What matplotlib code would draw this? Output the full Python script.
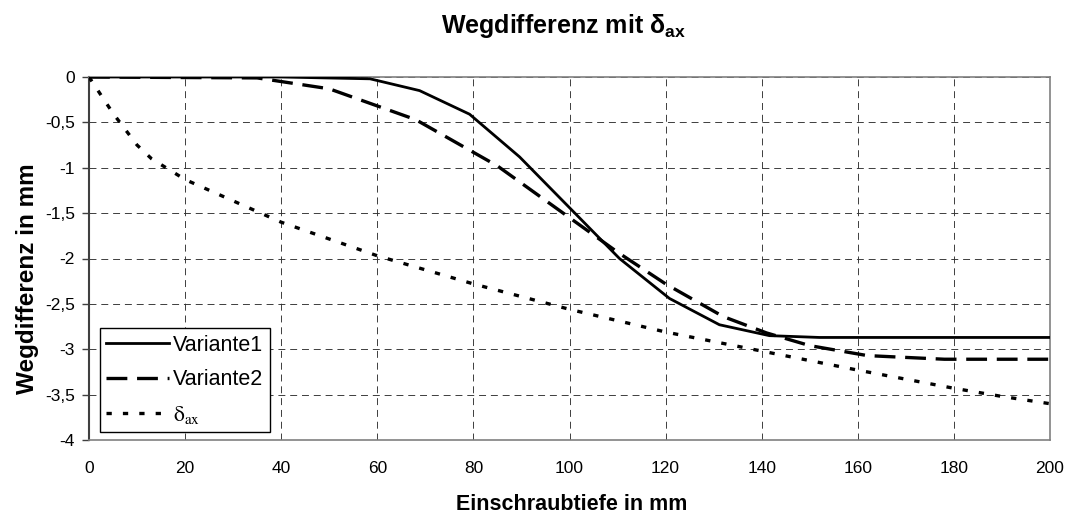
import numpy as np
import matplotlib
matplotlib.use("Agg")
import matplotlib.pyplot as plt

plt.rcParams['font.family'] = ['Liberation Sans', 'DejaVu Sans']
plt.rcParams['lines.scale_dashes'] = False

# Variante1 (durchgezogen)
x_v1 = [0, 20, 40, 58.5, 68.8, 79.2, 89.6, 100, 110.4, 120.8, 131.2, 141.6, 152, 200]
y_v1 = [0, 0, 0, -0.02, -0.15, -0.41, -0.88, -1.44, -2.0, -2.44, -2.73, -2.85, -2.87, -2.87]

# Variante2 (gestrichelt)
x_v2 = [0, 35, 50, 68, 85, 100, 110, 120, 132, 141, 150, 162, 178, 200]
y_v2 = [0, -0.01, -0.13, -0.47, -0.98, -1.55, -1.93, -2.28, -2.64, -2.82, -2.96, -3.07, -3.11, -3.11]

# delta_ax (gepunktet)
x_dax = [0, 5, 10, 13, 20, 40, 60, 80, 100, 120, 140, 160, 180, 190, 200]
y_dax = [0, -0.4, -0.75, -0.9, -1.13, -1.6, -1.97, -2.28, -2.56, -2.81, -3.02, -3.23, -3.43, -3.52, -3.6]

xticks = [0, 20, 40, 60, 80, 100, 120, 140, 160, 180, 200]
yticks = [0, -0.5, -1, -1.5, -2, -2.5, -3, -3.5, -4]
ytick_labels = ["0", "-0,5", "-1", "-1,5", "-2", "-2,5", "-3", "-3,5", "-4"]

fig = plt.figure(figsize=(10.67, 5.16), dpi=100)
ax = fig.add_axes([89/1067, 1-440/516, 961/1067, 363/516])

ax.plot(x_v1, y_v1, color='black', lw=2.0, label='Variante1', zorder=3)
l2, = ax.plot(x_v2, y_v2, color='black', lw=2.4, label='Variante2', zorder=3)
l2.set_dashes((15, 7))
l3, = ax.plot(x_dax, y_dax, color='black', lw=2.4, label=r'$\mathrm{\delta}_{\mathrm{ax}}$', zorder=3)
l3.set_dashes((3.8, 8))

ax.set_xlim(0, 200)
ax.set_ylim(-4, 0)
ax.set_xticks(xticks)
ax.set_xticklabels([str(v) for v in xticks])
ax.set_yticks(yticks)
ax.set_yticklabels(ytick_labels)
ax.tick_params(axis='x', length=0, pad=15, labelsize=12.5)
ax.tick_params(axis='y', length=5, width=1, color='#404040', pad=5, labelsize=12.5, direction='out')

ax.grid(True, color='#303030', lw=0.65, linestyle=(0, (5, 3.5)), zorder=1)
ax.set_axisbelow(True)

for s in ['top', 'right', 'bottom']:
    ax.spines[s].set_color('#808080')
    ax.spines[s].set_linewidth(1.2)
ax.spines['left'].set_color('#404040')
ax.spines['left'].set_linewidth(1.5)

fig.text(564/1067, 1-26/516, r'Wegdifferenz mit $\mathregular{\delta_{ax}}$',
         ha='center', va='center', fontsize=18, fontweight='bold')
fig.text(572/1067, 1-505/516, 'Einschraubtiefe in mm', ha='center', va='center',
         fontsize=15.5, fontweight='bold')
fig.text(28/1067, 1-279/516, 'Wegdifferenz in mm', ha='center', va='center',
         rotation=90, fontsize=17.5, fontweight='bold')

leg = ax.legend(loc='lower left', bbox_to_anchor=(0.0114, 0.022), borderaxespad=0,
                fontsize=15.5, handlelength=2.9, handletextpad=0.2, labelspacing=0.62,
                borderpad=0.3, fancybox=False, framealpha=1, edgecolor='black')
leg.get_frame().set_linewidth(1.0)
leg.get_texts()[2].set_math_fontfamily('stix')

fig.savefig('out.png', dpi=100)
